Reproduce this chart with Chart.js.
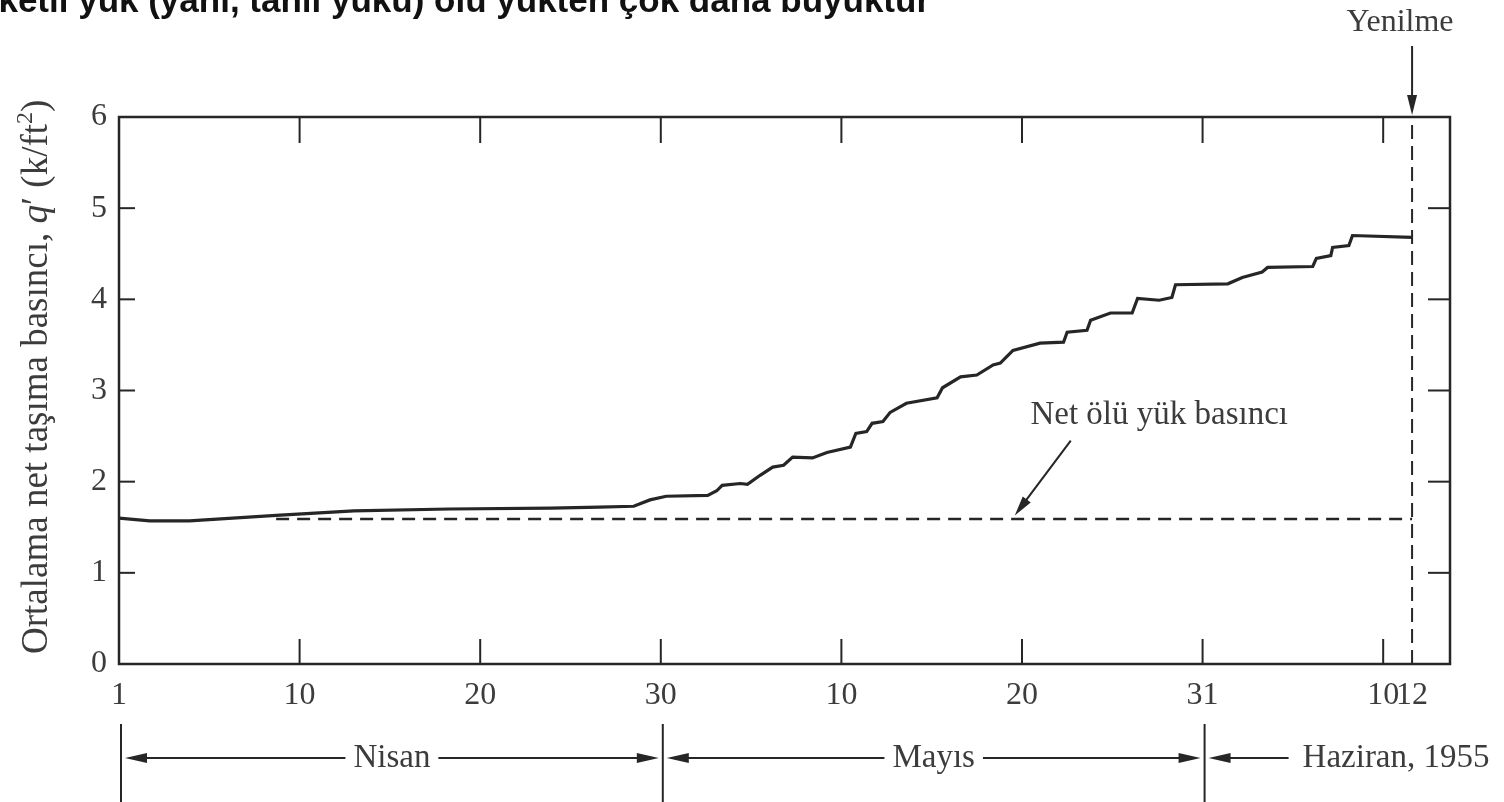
<!DOCTYPE html>
<html>
<head>
<meta charset="utf-8">
<script src="https://cdn.jsdelivr.net/npm/chart.js@4/dist/chart.umd.min.js"></script>
<style>
    html, body { margin: 0; padding: 0; background: #fff; }
    canvas { display: block; }
</style>
</head>
<body>
<canvas id="bearingChart" width="1504" height="802"></canvas>
<script>
// x is an axis position: 10 units between labelled dates (1 Nisan = 0)
const dayPos = [0, 1.7, 3.9, 8.7, 13.0, 18.3, 23.9, 26.6, 28.5, 29.4,
    30.3, 32.6, 33.1, 33.4, 34.4, 34.8, 35.5, 36.2, 36.8, 37.3,
    38.4, 39.2, 40.5, 40.8, 41.4, 41.7, 42.3, 42.7, 43.6, 45.3,
    45.6, 46.6, 47.5, 48.4, 48.8, 49.5, 51.0, 52.3, 52.5, 53.6,
    53.8, 54.9, 56.1, 56.4, 57.6, 58.3, 58.5, 61.4, 62.2, 63.3,
    63.6, 66.1, 66.3, 67.1, 67.2, 68.1, 68.3, 71.6];
// average net bearing pressure q' (k/ft2)
const pressure = [1.60, 1.57, 1.57, 1.63, 1.68, 1.70, 1.71, 1.72, 1.73, 1.80,
    1.84, 1.85, 1.90, 1.96, 1.98, 1.97, 2.07, 2.16, 2.18, 2.27,
    2.26, 2.32, 2.38, 2.53, 2.55, 2.64, 2.66, 2.76, 2.86, 2.92,
    3.03, 3.15, 3.17, 3.28, 3.30, 3.44, 3.52, 3.53, 3.64, 3.66,
    3.77, 3.85, 3.85, 4.01, 3.99, 4.02, 4.16, 4.17, 4.24, 4.30,
    4.35, 4.36, 4.45, 4.48, 4.57, 4.59, 4.70, 4.68];

// net dead load pressure line
const deadLoadPos = [8.7, 71.6];
const deadLoad = [1.59, 1.59];

// failure (12 Haziran)
const failurePos = 71.6;

const xTickPos = [0, 10, 20, 30, 40, 50, 60, 70, 71.6];
const xTickLabels = ['1', '10', '20', '30', '10', '20', '31', '10', '12'];
const yTicks = [0, 1, 2, 3, 4, 5, 6];
const yTickLabels = ['0', '1', '2', '3', '4', '5', '6'];

// month brackets under the axis
const monthNames = ['Nisan', 'Mayıs', 'Haziran, 1955'];
const monthBounds = [0, 30, 60];

const INK = '#262626';
const TEXT = '#3c3c3c';
const SERIF = '"Liberation Serif", "DejaVu Serif", serif';

function arrowHead(ctx, tipX, tipY, fromX, fromY, len, half) {
    const ang = Math.atan2(tipY - fromY, tipX - fromX);
    ctx.beginPath();
    ctx.moveTo(tipX, tipY);
    ctx.lineTo(tipX - len * Math.cos(ang) + half * Math.sin(ang), tipY - len * Math.sin(ang) - half * Math.cos(ang));
    ctx.lineTo(tipX - len * Math.cos(ang) - half * Math.sin(ang), tipY - len * Math.sin(ang) + half * Math.cos(ang));
    ctx.closePath();
    ctx.fill();
}

function line(ctx, x1, y1, x2, y2) {
    ctx.beginPath();
    ctx.moveTo(x1, y1);
    ctx.lineTo(x2, y2);
    ctx.stroke();
}

// Frame, inner ticks and all the annotations
const decorPlugin = {
    id: 'decor',
    afterDraw(chart) {
        const { ctx, chartArea: a, scales: { x, y } } = chart;
        ctx.save();
        ctx.strokeStyle = INK;
        ctx.fillStyle = INK;

        // frame
        ctx.lineWidth = 2.5;
        ctx.strokeRect(a.left, a.top, a.right - a.left, a.bottom - a.top);

        // ticks pointing inwards
        ctx.lineWidth = 2;
        xTickPos.slice(1, 8).forEach(v => {
            const px = x.getPixelForValue(v);
            line(ctx, px, a.top, px, a.top + 26);
            line(ctx, px, a.bottom, px, a.bottom - 25);
        });
        yTicks.slice(1, 6).forEach(v => {
            const py = y.getPixelForValue(v);
            line(ctx, a.left, py, a.left + 16, py);
            line(ctx, a.right, py, a.right - 22, py);
        });

        // failure arrow + label
        const fx = x.getPixelForValue(failurePos);
        ctx.lineWidth = 2;
        line(ctx, fx, 46, fx, a.top - 14);
        arrowHead(ctx, fx, a.top - 2, fx, 46, 20, 5);
        ctx.fillStyle = TEXT;
        ctx.font = '32px ' + SERIF;
        ctx.textAlign = 'center';
        ctx.textBaseline = 'alphabetic';
        ctx.fillText('Yenilme', fx - 12, 31);

        // dead load label + arrow
        ctx.font = '33px ' + SERIF;
        ctx.fillText('Net ölü yük basıncı', x.getPixelForValue(57.6), y.getPixelForValue(2.63));
        ctx.fillStyle = INK;
        ctx.lineWidth = 2;
        const ax1 = x.getPixelForValue(52.7), ay1 = y.getPixelForValue(2.45);
        const ax2 = x.getPixelForValue(49.6), ay2 = y.getPixelForValue(1.63);
        line(ctx, ax1, ay1, ax2 + (ax1 - ax2) * 0.2, ay2 + (ay1 - ay2) * 0.2);
        arrowHead(ctx, ax2, ay2, ax1, ay1, 20, 5);

        // month brackets
        const rowY = 758;
        ctx.lineWidth = 2;
        monthBounds.forEach(v => {
            const px = x.getPixelForValue(v);
            line(ctx, px + 2, 724, px + 2, 802);
        });
        ctx.font = '33px ' + SERIF;
        ctx.textBaseline = 'middle';
        for (let i = 0; i < 2; i++) {
            const l = x.getPixelForValue(monthBounds[i]) + 4;
            const r = x.getPixelForValue(monthBounds[i + 1]);
            const mid = (l + r) / 2;
            const w = ctx.measureText(monthNames[i]).width;
            ctx.fillStyle = TEXT;
            ctx.textAlign = 'center';
            ctx.fillText(monthNames[i], mid, rowY);
            ctx.fillStyle = INK;
            line(ctx, l + 12, rowY, mid - w / 2 - 8, rowY);
            line(ctx, mid + w / 2 + 8, rowY, r - 12, rowY);
            arrowHead(ctx, l + 2, rowY, l + 30, rowY, 22, 5);
            arrowHead(ctx, r - 2, rowY, r - 30, rowY, 22, 5);
        }
        const jx = x.getPixelForValue(monthBounds[2]) + 4;
        line(ctx, jx + 12, rowY, jx + 82, rowY);
        arrowHead(ctx, jx + 2, rowY, jx + 30, rowY, 22, 5);
        ctx.fillStyle = TEXT;
        ctx.textAlign = 'left';
        ctx.fillText(monthNames[2], jx + 96, rowY);

        // y axis title (q' in italics)
        ctx.save();
        ctx.translate(37, y.getPixelForValue(3.15));
        ctx.rotate(-Math.PI / 2);
        ctx.textBaseline = 'middle';
        ctx.textAlign = 'left';
        const parts = [
            { t: 'Ortalama net taşıma basıncı, ', f: '37px ' + SERIF, dy: 0 },
            { t: 'q', f: 'italic 37px ' + SERIF, dy: 0 },
            { t: '′ (k/ft', f: '37px ' + SERIF, dy: 0 },
            { t: '2', f: '24px ' + SERIF, dy: -11 },
            { t: ')', f: '37px ' + SERIF, dy: 0 }
        ];
        let total = 0;
        parts.forEach(p => { ctx.font = p.f; p.w = ctx.measureText(p.t).width; total += p.w; });
        let cx = -total / 2;
        parts.forEach(p => {
            ctx.font = p.f;
            ctx.fillText(p.t, cx, p.dy);
            cx += p.w;
        });
        ctx.restore();

        // cropped heading from the page above
        ctx.fillStyle = '#111';
        ctx.font = 'bold 35px "Liberation Sans", Arial, sans-serif';
        ctx.textAlign = 'right';
        ctx.textBaseline = 'alphabetic';
        ctx.fillText('hareketli yük (yani, tahıl yükü) ölü yükten çok daha büyüktür', 930, 12);

        ctx.restore();
    }
};

const ctx = document.getElementById('bearingChart').getContext('2d');
new Chart(ctx, {
    type: 'line',
    data: {
        datasets: [
            {
                data: dayPos.map((v, i) => ({ x: v, y: pressure[i] })),
                borderColor: INK,
                borderWidth: 3.2,
                pointRadius: 0,
                tension: 0
            },
            {
                data: deadLoadPos.map((v, i) => ({ x: v, y: deadLoad[i] })),
                borderColor: INK,
                borderWidth: 2.5,
                borderDash: [13, 8],
                pointRadius: 0
            },
            {
                data: [{ x: failurePos, y: 0 }, { x: failurePos, y: 6 }],
                borderColor: INK,
                borderWidth: 2,
                borderDash: [14, 7],
                pointRadius: 0
            }
        ]
    },
    options: {
        responsive: false,
        animation: false,
        layout: { padding: { left: 0, right: 54, top: 117, bottom: 0 } },
        plugins: {
            legend: { display: false },
            tooltip: { enabled: false }
        },
        scales: {
            x: {
                type: 'linear',
                min: 0,
                max: 73.7,
                grid: { display: false, drawTicks: false },
                border: { display: false },
                afterBuildTicks: s => { s.ticks = xTickPos.map(v => ({ value: v })); },
                afterFit: s => { s.height = 138; },
                ticks: {
                    autoSkip: false,
                    maxRotation: 0,
                    padding: 12,
                    color: TEXT,
                    font: { family: SERIF, size: 32 },
                    callback: (v, i) => xTickLabels[i]
                }
            },
            y: {
                min: 0,
                max: 6,
                grid: { display: false, drawTicks: false },
                border: { display: false },
                afterBuildTicks: s => { s.ticks = yTicks.map(v => ({ value: v })); },
                afterFit: s => { s.width = 119; },
                ticks: {
                    padding: 12,
                    color: TEXT,
                    font: { family: SERIF, size: 32 },
                    callback: (v, i) => yTickLabels[i]
                }
            }
        }
    },
    plugins: [decorPlugin]
});
</script>
</body>
</html>
